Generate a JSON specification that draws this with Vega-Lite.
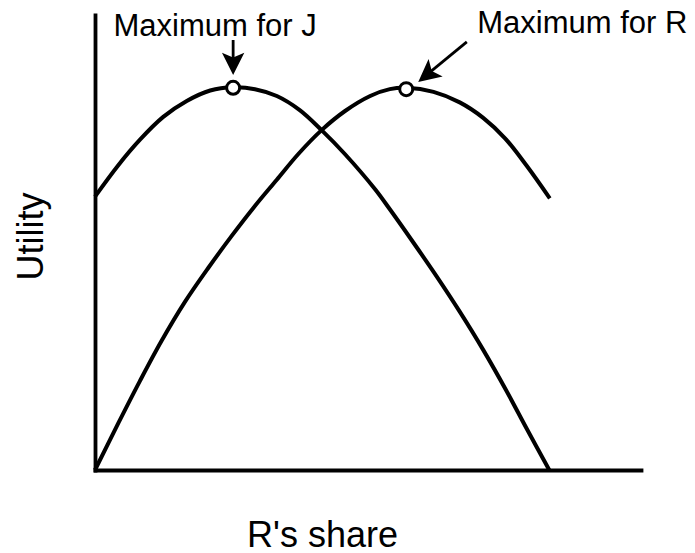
{
  "$schema": "https://vega.github.io/schema/vega-lite/v6.json",
  "width": 546,
  "height": 455,
  "autosize": "none",
  "padding": {"left": 95, "top": 15, "right": 54, "bottom": 83},
  "background": "white",
  "config": {
    "view": {"stroke": null},
    "font": "Liberation Sans",
    "axis": {"domain": true, "domainColor": "black", "domainWidth": 3.8, "domainCap": "square", "ticks": false, "labels": false, "grid": false,
      "titleFontSize": 36, "titleFont": "Liberation Sans", "titleFontWeight": "normal", "titleColor": "black", "titleAlign": "center", "titleBaseline": "alphabetic"},
    "axisX": {"titleX": 227, "titleY": 76, "titleAngle": 0},
    "axisY": {"titleAngle": 270, "titleX": -53, "titleY": 221}
  },
  "datasets": {
    "curves": [
      {"curve": "J", "share": 0, "utility": 60.1},
      {"curve": "J", "share": 4.27, "utility": 67.0},
      {"curve": "J", "share": 8.24, "utility": 72.6},
      {"curve": "J", "share": 12.5, "utility": 77.6},
      {"curve": "J", "share": 16.8, "utility": 81.1},
      {"curve": "J", "share": 21.1, "utility": 83.4},
      {"curve": "J", "share": 25.3, "utility": 84.1},
      {"curve": "J", "share": 29.3, "utility": 83.7},
      {"curve": "J", "share": 33.3, "utility": 82.2},
      {"curve": "J", "share": 37.5, "utility": 79.1},
      {"curve": "J", "share": 41.5, "utility": 74.7},
      {"curve": "J", "share": 45.8, "utility": 69.4},
      {"curve": "J", "share": 51.3, "utility": 61.7},
      {"curve": "J", "share": 54.0, "utility": 57.3},
      {"curve": "J", "share": 58.3, "utility": 50.0},
      {"curve": "J", "share": 62.6, "utility": 42.5},
      {"curve": "J", "share": 66.8, "utility": 34.8},
      {"curve": "J", "share": 71.1, "utility": 26.4},
      {"curve": "J", "share": 75.4, "utility": 17.3},
      {"curve": "J", "share": 79.1, "utility": 9.0},
      {"curve": "J", "share": 83.2, "utility": 0},
      {"curve": "R", "share": 0, "utility": 0},
      {"curve": "R", "share": 4.27, "utility": 10.3},
      {"curve": "R", "share": 8.24, "utility": 19.6},
      {"curve": "R", "share": 12.2, "utility": 28.4},
      {"curve": "R", "share": 16.5, "utility": 37.0},
      {"curve": "R", "share": 20.8, "utility": 44.5},
      {"curve": "R", "share": 25.0, "utility": 51.4},
      {"curve": "R", "share": 29.0, "utility": 57.6},
      {"curve": "R", "share": 33.3, "utility": 63.8},
      {"curve": "R", "share": 37.2, "utility": 69.4},
      {"curve": "R", "share": 41.5, "utility": 74.7},
      {"curve": "R", "share": 45.8, "utility": 78.9},
      {"curve": "R", "share": 50.4, "utility": 82.2},
      {"curve": "R", "share": 54.0, "utility": 83.7},
      {"curve": "R", "share": 57.1, "utility": 84.0},
      {"curve": "R", "share": 62.0, "utility": 83.1},
      {"curve": "R", "share": 66.8, "utility": 80.8},
      {"curve": "R", "share": 71.1, "utility": 77.4},
      {"curve": "R", "share": 75.1, "utility": 72.9},
      {"curve": "R", "share": 79.1, "utility": 66.8},
      {"curve": "R", "share": 83.3, "utility": 59.7}
    ],
    "maxima": [
      {"curve": "J", "share": 25.3, "utility": 84.0},
      {"curve": "R", "share": 57.0, "utility": 83.7}
    ],
    "arrows": [
      {"curve": "J", "share": 25.3, "utility": 94.5, "share2": 25.3, "utility2": 88.6, "tipShare": 25.3, "tipUtility": 86.8},
      {"curve": "R", "share": 68.1, "utility": 94.1, "share2": 60.3, "utility2": 86.4, "tipShare": 59.2, "tipUtility": 85.3}
    ],
    "labels": [
      {"curve": "J", "share": 22.0, "utility": 95.4, "text": "Maximum for J"},
      {"curve": "R", "share": 70.0, "utility": 96.0, "text": "Maximum for R"}
    ]
  },
  "layer": [
    {
      "data": {"name": "curves"},
      "mark": {"type": "line", "color": "black", "strokeWidth": 4, "interpolate": "catmull-rom", "strokeCap": "butt", "strokeJoin": "round", "clip": false},
      "encoding": {
        "x": {"field": "share", "type": "quantitative", "title": "R's share", "scale": {"domain": [0, 100], "nice": false, "zero": false}},
        "y": {"field": "utility", "type": "quantitative", "title": "Utility", "scale": {"domain": [0, 100], "nice": false, "zero": false}},
        "detail": {"field": "curve"}
      }
    },
    {
      "data": {"name": "arrows"},
      "mark": {"type": "rule", "color": "black", "strokeWidth": 2.8},
      "encoding": {
        "x": {"field": "share", "type": "quantitative", "title": "R's share", "scale": {"domain": [0, 100], "nice": false, "zero": false}},
        "y": {"field": "utility", "type": "quantitative", "title": "Utility", "scale": {"domain": [0, 100], "nice": false, "zero": false}},
        "x2": {"field": "share2"},
        "y2": {"field": "utility2"}
      }
    },
    {
      "data": {"name": "arrows"},
      "transform": [{"filter": "datum.curve == 'J'"}],
      "mark": {"type": "point", "shape": "M0,0 L-0.5,1 L0,0.78 L0.5,1 Z", "size": 2000, "filled": true, "color": "black", "opacity": 1, "angle": 180, "strokeWidth": 0},
      "encoding": {
        "x": {"field": "tipShare", "type": "quantitative", "title": "R's share", "scale": {"domain": [0, 100], "nice": false, "zero": false}},
        "y": {"field": "tipUtility", "type": "quantitative", "title": "Utility", "scale": {"domain": [0, 100], "nice": false, "zero": false}}
      }
    },
    {
      "data": {"name": "arrows"},
      "transform": [{"filter": "datum.curve == 'R'"}],
      "mark": {"type": "point", "shape": "M0,0 L-0.5,1 L0,0.78 L0.5,1 Z", "size": 2000, "filled": true, "color": "black", "opacity": 1, "angle": 231, "strokeWidth": 0},
      "encoding": {
        "x": {"field": "tipShare", "type": "quantitative", "title": "R's share", "scale": {"domain": [0, 100], "nice": false, "zero": false}},
        "y": {"field": "tipUtility", "type": "quantitative", "title": "Utility", "scale": {"domain": [0, 100], "nice": false, "zero": false}}
      }
    },
    {
      "data": {"name": "maxima"},
      "mark": {"type": "point", "shape": "circle", "size": 170, "filled": false, "fill": "white", "fillOpacity": 1, "stroke": "black", "strokeWidth": 3, "opacity": 1},
      "encoding": {
        "x": {"field": "share", "type": "quantitative", "title": "R's share", "scale": {"domain": [0, 100], "nice": false, "zero": false}},
        "y": {"field": "utility", "type": "quantitative", "title": "Utility", "scale": {"domain": [0, 100], "nice": false, "zero": false}}
      }
    },
    {
      "data": {"name": "labels"},
      "transform": [{"filter": "datum.curve == 'J'"}],
      "mark": {"type": "text", "font": "Liberation Sans", "fontSize": 31, "color": "black", "align": "center", "baseline": "alphabetic"},
      "encoding": {
        "x": {"field": "share", "type": "quantitative", "title": "R's share", "scale": {"domain": [0, 100], "nice": false, "zero": false}},
        "y": {"field": "utility", "type": "quantitative", "title": "Utility", "scale": {"domain": [0, 100], "nice": false, "zero": false}},
        "text": {"field": "text"}
      }
    },
    {
      "data": {"name": "labels"},
      "transform": [{"filter": "datum.curve == 'R'"}],
      "mark": {"type": "text", "font": "Liberation Sans", "fontSize": 31, "color": "black", "align": "left", "baseline": "alphabetic"},
      "encoding": {
        "x": {"field": "share", "type": "quantitative", "title": "R's share", "scale": {"domain": [0, 100], "nice": false, "zero": false}},
        "y": {"field": "utility", "type": "quantitative", "title": "Utility", "scale": {"domain": [0, 100], "nice": false, "zero": false}},
        "text": {"field": "text"}
      }
    }
  ]
}
